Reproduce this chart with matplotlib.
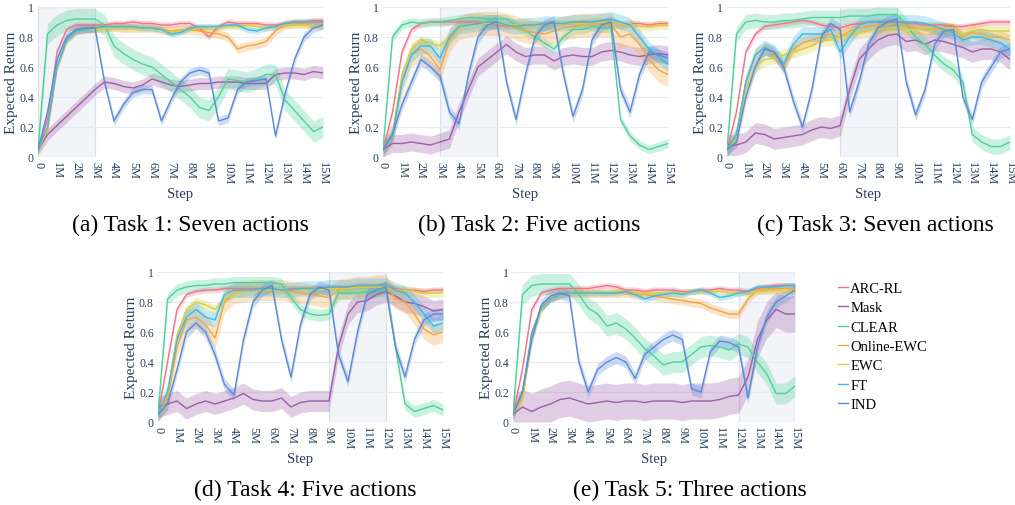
import numpy as np
import matplotlib
matplotlib.use("Agg")
import matplotlib.pyplot as plt

plt.rcParams['font.family'] = ['Liberation Serif', 'DejaVu Serif']

# step grid, every 0.5M
steps = np.arange(0, 15.5, 0.5) * 1e6

methods = ['ARC-RL', 'Mask', 'CLEAR', 'Online-EWC', 'EWC', 'FT', 'IND']
colors = ['#f4728a', '#9c5fa8', '#4fd19a', '#f5a540', '#d9ce3a', '#3cb9e6', '#5b8bd8']

# ---- Task 1: Seven actions
t1_arc = [0.05, 0.25, 0.70, 0.85, 0.88, 0.88, 0.88, 0.88, 0.89, 0.89, 0.90, 0.89, 0.89, 0.88, 0.88, 0.89,
          0.89, 0.86, 0.80, 0.87, 0.90, 0.89, 0.89, 0.89, 0.88, 0.88, 0.89, 0.90, 0.90, 0.91, 0.91]
t1_mask = [0.05, 0.15, 0.21, 0.27, 0.33, 0.39, 0.45, 0.50, 0.49, 0.47, 0.46, 0.48, 0.52, 0.50, 0.48, 0.47,
           0.48, 0.49, 0.49, 0.50, 0.50, 0.50, 0.49, 0.49, 0.49, 0.55, 0.56, 0.56, 0.55, 0.57, 0.56]
t1_clear = [0.05, 0.82, 0.88, 0.91, 0.92, 0.92, 0.92, 0.88, 0.74, 0.69, 0.65, 0.62, 0.60, 0.55, 0.50, 0.45,
            0.40, 0.33, 0.31, 0.40, 0.52, 0.51, 0.50, 0.52, 0.55, 0.55, 0.38, 0.31, 0.24, 0.17, 0.20]
t1_oewc = [0.05, 0.18, 0.60, 0.78, 0.84, 0.85, 0.86, 0.86, 0.87, 0.86, 0.86, 0.86, 0.86, 0.85, 0.84, 0.85,
           0.85, 0.84, 0.83, 0.82, 0.80, 0.72, 0.74, 0.75, 0.77, 0.84, 0.88, 0.89, 0.89, 0.89, 0.89]
t1_ewc = [0.05, 0.18, 0.60, 0.78, 0.84, 0.85, 0.85, 0.86, 0.86, 0.86, 0.86, 0.86, 0.86, 0.85, 0.83, 0.84,
          0.86, 0.86, 0.86, 0.86, 0.87, 0.87, 0.88, 0.87, 0.86, 0.87, 0.88, 0.88, 0.88, 0.87, 0.87]
t1_ft = [0.05, 0.20, 0.60, 0.78, 0.84, 0.85, 0.86, 0.87, 0.87, 0.87, 0.87, 0.86, 0.86, 0.85, 0.82, 0.83,
         0.86, 0.87, 0.87, 0.87, 0.88, 0.88, 0.85, 0.84, 0.86, 0.87, 0.89, 0.90, 0.90, 0.90, 0.90]
t1_ind = [0.05, 0.30, 0.65, 0.80, 0.85, 0.86, 0.86, 0.50, 0.24, 0.35, 0.43, 0.45, 0.45, 0.24, 0.38, 0.50,
          0.56, 0.58, 0.56, 0.24, 0.26, 0.45, 0.50, 0.51, 0.52, 0.14, 0.42, 0.65, 0.80, 0.86, 0.88]
t1_spread = [0.02, 0.04, 0.07, 0.03, 0.02, 0.02, 0.03]

# ---- Task 2: Five actions
t2_arc = [0.05, 0.30, 0.70, 0.85, 0.89, 0.90, 0.90, 0.90, 0.90, 0.90, 0.90, 0.89, 0.88, 0.87, 0.88, 0.88,
          0.88, 0.89, 0.89, 0.89, 0.89, 0.90, 0.90, 0.90, 0.90, 0.88, 0.89, 0.89, 0.88, 0.89, 0.89]
t2_mask = [0.05, 0.09, 0.09, 0.10, 0.09, 0.08, 0.10, 0.12, 0.30, 0.45, 0.60, 0.65, 0.70, 0.75, 0.70, 0.67,
           0.68, 0.68, 0.64, 0.67, 0.68, 0.67, 0.67, 0.70, 0.71, 0.70, 0.68, 0.67, 0.68, 0.69, 0.68]
t2_clear = [0.05, 0.80, 0.88, 0.90, 0.89, 0.90, 0.90, 0.91, 0.92, 0.93, 0.93, 0.92, 0.92, 0.92, 0.88, 0.84,
            0.80, 0.76, 0.72, 0.80, 0.85, 0.85, 0.87, 0.86, 0.86, 0.25, 0.14, 0.08, 0.05, 0.07, 0.09]
t2_oewc = [0.05, 0.15, 0.50, 0.68, 0.72, 0.67, 0.58, 0.78, 0.86, 0.88, 0.89, 0.89, 0.89, 0.88, 0.86, 0.84,
           0.83, 0.82, 0.84, 0.86, 0.87, 0.88, 0.88, 0.88, 0.88, 0.80, 0.82, 0.75, 0.65, 0.58, 0.55]
t2_ewc = [0.05, 0.15, 0.55, 0.72, 0.78, 0.76, 0.74, 0.80, 0.86, 0.88, 0.89, 0.89, 0.89, 0.88, 0.88, 0.88,
          0.88, 0.88, 0.89, 0.89, 0.89, 0.89, 0.90, 0.90, 0.90, 0.88, 0.89, 0.87, 0.87, 0.88, 0.88]
t2_ft = [0.05, 0.15, 0.50, 0.68, 0.74, 0.74, 0.66, 0.80, 0.87, 0.88, 0.89, 0.90, 0.90, 0.88, 0.87, 0.88,
         0.88, 0.89, 0.89, 0.89, 0.90, 0.90, 0.90, 0.91, 0.92, 0.90, 0.88, 0.80, 0.72, 0.67, 0.62]
t2_ind = [0.05, 0.15, 0.35, 0.50, 0.65, 0.60, 0.54, 0.30, 0.22, 0.55, 0.80, 0.88, 0.90, 0.50, 0.25, 0.55,
          0.80, 0.88, 0.90, 0.55, 0.27, 0.45, 0.78, 0.88, 0.90, 0.45, 0.30, 0.55, 0.70, 0.68, 0.66]
t2_spread = [0.02, 0.06, 0.03, 0.08, 0.03, 0.05, 0.04]

# ---- Task 3: Seven actions
t3_arc = [0.05, 0.30, 0.70, 0.82, 0.87, 0.88, 0.89, 0.90, 0.91, 0.90, 0.88, 0.87, 0.86, 0.88, 0.89, 0.90,
          0.90, 0.90, 0.90, 0.89, 0.89, 0.88, 0.88, 0.88, 0.87, 0.87, 0.88, 0.89, 0.90, 0.90, 0.90]
t3_mask = [0.08, 0.08, 0.10, 0.16, 0.15, 0.12, 0.13, 0.14, 0.15, 0.18, 0.20, 0.19, 0.21, 0.45, 0.65, 0.72,
           0.78, 0.81, 0.82, 0.77, 0.78, 0.75, 0.78, 0.77, 0.75, 0.73, 0.70, 0.72, 0.72, 0.70, 0.65]
t3_clear = [0.05, 0.82, 0.90, 0.91, 0.90, 0.90, 0.91, 0.91, 0.92, 0.93, 0.93, 0.93, 0.93, 0.94, 0.94, 0.94,
            0.95, 0.95, 0.95, 0.88, 0.80, 0.75, 0.68, 0.62, 0.58, 0.50, 0.15, 0.10, 0.07, 0.07, 0.10]
t3_oewc = [0.05, 0.15, 0.50, 0.68, 0.73, 0.68, 0.60, 0.72, 0.76, 0.78, 0.80, 0.82, 0.80, 0.84, 0.86, 0.87,
           0.88, 0.88, 0.89, 0.87, 0.86, 0.85, 0.85, 0.85, 0.85, 0.80, 0.83, 0.82, 0.80, 0.80, 0.78]
t3_ewc = [0.05, 0.12, 0.45, 0.60, 0.65, 0.66, 0.68, 0.70, 0.72, 0.74, 0.78, 0.78, 0.80, 0.82, 0.83, 0.84,
          0.85, 0.86, 0.86, 0.85, 0.85, 0.86, 0.86, 0.86, 0.86, 0.82, 0.84, 0.85, 0.84, 0.84, 0.84]
t3_ft = [0.05, 0.15, 0.50, 0.68, 0.73, 0.70, 0.62, 0.75, 0.82, 0.82, 0.82, 0.85, 0.70, 0.80, 0.88, 0.90,
         0.90, 0.90, 0.90, 0.90, 0.90, 0.89, 0.87, 0.85, 0.83, 0.78, 0.80, 0.80, 0.78, 0.76, 0.72]
t3_ind = [0.05, 0.10, 0.40, 0.60, 0.72, 0.70, 0.60, 0.38, 0.20, 0.45, 0.80, 0.89, 0.85, 0.30, 0.50, 0.75,
          0.86, 0.90, 0.92, 0.50, 0.28, 0.45, 0.75, 0.84, 0.85, 0.40, 0.25, 0.50, 0.60, 0.70, 0.72]
t3_spread = [0.02, 0.07, 0.05, 0.04, 0.04, 0.05, 0.04]

# ---- Task 4: Five actions
t4_arc = [0.05, 0.40, 0.75, 0.85, 0.87, 0.88, 0.88, 0.89, 0.89, 0.89, 0.89, 0.89, 0.89, 0.88, 0.89, 0.89,
          0.89, 0.89, 0.90, 0.90, 0.90, 0.91, 0.91, 0.91, 0.91, 0.89, 0.88, 0.88, 0.87, 0.88, 0.88]
t4_mask = [0.10, 0.12, 0.14, 0.09, 0.12, 0.14, 0.12, 0.14, 0.16, 0.19, 0.15, 0.14, 0.14, 0.16, 0.10, 0.13,
           0.14, 0.14, 0.14, 0.50, 0.72, 0.80, 0.81, 0.85, 0.87, 0.84, 0.80, 0.79, 0.77, 0.74, 0.75]
t4_clear = [0.05, 0.82, 0.88, 0.90, 0.91, 0.91, 0.92, 0.92, 0.93, 0.93, 0.93, 0.93, 0.93, 0.92, 0.83, 0.75,
            0.72, 0.71, 0.72, 0.86, 0.86, 0.86, 0.87, 0.87, 0.88, 0.50, 0.12, 0.07, 0.09, 0.11, 0.08]
t4_oewc = [0.05, 0.15, 0.50, 0.68, 0.70, 0.65, 0.56, 0.80, 0.86, 0.87, 0.88, 0.88, 0.88, 0.88, 0.87, 0.86,
           0.85, 0.84, 0.83, 0.88, 0.89, 0.90, 0.90, 0.91, 0.91, 0.82, 0.80, 0.72, 0.62, 0.58, 0.60]
t4_ewc = [0.05, 0.18, 0.58, 0.75, 0.80, 0.78, 0.75, 0.82, 0.86, 0.87, 0.88, 0.88, 0.88, 0.88, 0.88, 0.88,
          0.88, 0.88, 0.89, 0.89, 0.89, 0.90, 0.90, 0.90, 0.90, 0.88, 0.88, 0.87, 0.86, 0.86, 0.86]
t4_ft = [0.05, 0.20, 0.55, 0.70, 0.75, 0.70, 0.68, 0.85, 0.88, 0.88, 0.88, 0.89, 0.89, 0.88, 0.88, 0.89,
         0.89, 0.89, 0.90, 0.90, 0.90, 0.91, 0.91, 0.91, 0.91, 0.88, 0.86, 0.80, 0.72, 0.64, 0.66]
t4_ind = [0.05, 0.12, 0.35, 0.60, 0.66, 0.60, 0.45, 0.25, 0.18, 0.55, 0.80, 0.88, 0.91, 0.55, 0.30, 0.65,
          0.85, 0.90, 0.88, 0.45, 0.27, 0.60, 0.85, 0.88, 0.90, 0.50, 0.30, 0.55, 0.68, 0.72, 0.72]
t4_spread = [0.02, 0.07, 0.04, 0.07, 0.03, 0.05, 0.04]

# ---- Task 5: Three actions
t5_arc = [0.05, 0.35, 0.75, 0.86, 0.88, 0.89, 0.89, 0.89, 0.89, 0.90, 0.91, 0.90, 0.88, 0.88, 0.87, 0.88,
          0.88, 0.88, 0.87, 0.87, 0.88, 0.88, 0.89, 0.88, 0.88, 0.87, 0.89, 0.90, 0.91, 0.91, 0.91]
t5_mask = [0.05, 0.10, 0.07, 0.10, 0.12, 0.15, 0.16, 0.14, 0.12, 0.13, 0.14, 0.13, 0.14, 0.14, 0.13, 0.14,
           0.14, 0.14, 0.13, 0.14, 0.14, 0.14, 0.15, 0.17, 0.18, 0.30, 0.55, 0.68, 0.75, 0.72, 0.72]
t5_clear = [0.05, 0.85, 0.91, 0.92, 0.92, 0.92, 0.92, 0.85, 0.76, 0.72, 0.64, 0.66, 0.62, 0.56, 0.49, 0.44,
            0.38, 0.40, 0.40, 0.45, 0.50, 0.51, 0.50, 0.48, 0.52, 0.50, 0.40, 0.32, 0.19, 0.19, 0.24]
t5_oewc = [0.05, 0.18, 0.58, 0.76, 0.83, 0.85, 0.86, 0.86, 0.86, 0.86, 0.86, 0.86, 0.86, 0.85, 0.85, 0.84,
           0.83, 0.82, 0.81, 0.80, 0.79, 0.76, 0.74, 0.72, 0.72, 0.82, 0.88, 0.89, 0.89, 0.89, 0.89]
t5_ewc = [0.05, 0.15, 0.55, 0.75, 0.82, 0.85, 0.86, 0.86, 0.86, 0.86, 0.86, 0.87, 0.87, 0.86, 0.86, 0.86,
          0.86, 0.86, 0.86, 0.87, 0.87, 0.87, 0.87, 0.86, 0.86, 0.86, 0.87, 0.87, 0.88, 0.87, 0.87]
t5_ft = [0.05, 0.20, 0.60, 0.76, 0.82, 0.85, 0.86, 0.86, 0.86, 0.86, 0.86, 0.86, 0.87, 0.85, 0.82, 0.84,
         0.85, 0.86, 0.85, 0.87, 0.88, 0.86, 0.83, 0.84, 0.86, 0.87, 0.90, 0.90, 0.90, 0.91, 0.91]
t5_ind = [0.05, 0.20, 0.55, 0.78, 0.84, 0.86, 0.84, 0.40, 0.20, 0.35, 0.40, 0.43, 0.40, 0.29, 0.45, 0.50,
          0.55, 0.58, 0.55, 0.22, 0.20, 0.47, 0.54, 0.53, 0.50, 0.16, 0.50, 0.70, 0.80, 0.84, 0.88]
t5_spread = [0.02, 0.12, 0.07, 0.03, 0.02, 0.02, 0.04]

tasks = [
    ([t1_arc, t1_mask, t1_clear, t1_oewc, t1_ewc, t1_ft, t1_ind], t1_spread, (0, 3), '(a) Task 1: Seven actions'),
    ([t2_arc, t2_mask, t2_clear, t2_oewc, t2_ewc, t2_ft, t2_ind], t2_spread, (3, 6), '(b) Task 2: Five actions'),
    ([t3_arc, t3_mask, t3_clear, t3_oewc, t3_ewc, t3_ft, t3_ind], t3_spread, (6, 9), '(c) Task 3: Seven actions'),
    ([t4_arc, t4_mask, t4_clear, t4_oewc, t4_ewc, t4_ft, t4_ind], t4_spread, (9, 12), '(d) Task 4: Five actions'),
    ([t5_arc, t5_mask, t5_clear, t5_oewc, t5_ewc, t5_ft, t5_ind], t5_spread, (12, 15), '(e) Task 5: Three actions'),
]

W, H = 1015, 506
# axes boxes in pixels: left, top, width, height
boxes = [(38, 8, 285, 150), (383, 8, 285, 150), (727, 8, 283, 150),
         (158, 273, 285, 150), (513, 273, 282, 150)]
# caption centres in pixels
cap_pos = [(190, 225), (529, 225), (875, 225), (305, 490), (690, 490)]

fig = plt.figure(figsize=(W / 100, H / 100), dpi=100)
tick_col = '#2a3f5f'

for (series, spread, shade, caption), (l, t, w, h), (cx, cy) in zip(tasks, boxes, cap_pos):
    ax = fig.add_axes([l / W, 1 - (t + h) / H, w / W, h / H])
    ax.axvspan(shade[0] * 1e6, shade[1] * 1e6, facecolor='#e4e8f1', alpha=0.45,
               edgecolor='#b5bfd4', lw=0.9, zorder=0.5)
    for vals, sp, c in zip(series, spread, colors):
        v = np.array(vals)
        ax.fill_between(steps, np.clip(v - sp, 0, 1), np.clip(v + sp, 0, 1),
                        color=c, alpha=0.3, lw=0, zorder=1)
    for vals, c, m in zip(series, colors, methods):
        ax.plot(steps, vals, color=c, lw=1.0, zorder=2, label=m)
    ax.set_xlim(0, 15e6)
    ax.set_ylim(0, 1)
    ax.set_yticks([0, 0.2, 0.4, 0.6, 0.8, 1])
    ax.set_yticklabels(['0', '0.2', '0.4', '0.6', '0.8', '1'])
    xt = np.arange(0, 16) * 1e6
    ax.set_xticks(xt)
    ax.set_xticklabels(['0'] + ['%dM' % i for i in range(1, 16)], rotation=-90)
    ax.tick_params(axis='x', length=0, labelsize=8.8, colors=tick_col, pad=3)
    ax.tick_params(axis='y', length=0, labelsize=8.5, colors=tick_col, pad=3)
    ax.grid(axis='y', color='#e6eaf2', lw=0.9, zorder=0)
    ax.set_axisbelow(True)
    for s in ax.spines.values():
        s.set_visible(False)
    ax.set_xlabel('Step', fontsize=10.5, color=tick_col, labelpad=2)
    ax.set_ylabel('Expected Return', fontsize=11, color=tick_col, labelpad=1)
    fig.text(cx / W, 1 - cy / H, caption, ha='center', va='center',
             fontsize=17, color='black')

handles, labels = ax.get_legend_handles_labels()
leg = fig.legend(handles, labels, loc='upper left', bbox_to_anchor=(832 / W, 1 - 277 / H),
                 frameon=False, fontsize=10.5, handlelength=0.7, handletextpad=0.15,
                 labelspacing=0.42, borderaxespad=0)

fig.savefig('out.png', dpi=100)
